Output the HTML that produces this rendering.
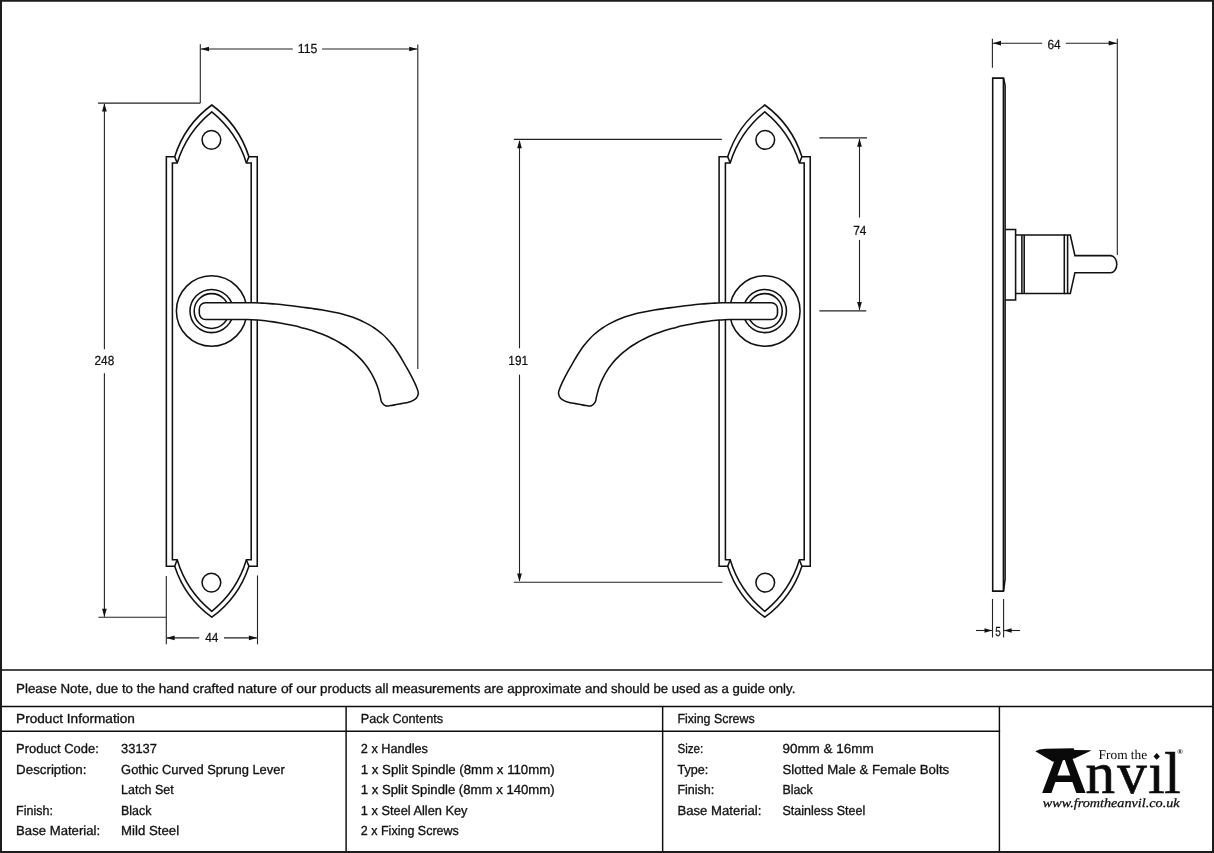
<!DOCTYPE html>
<html lang="en"><head><meta charset="utf-8"><title>Gothic Curved Sprung Lever Latch Set - 33137</title>
<style>
html,body{margin:0;padding:0;background:#fff;}
body{width:1214px;height:853px;overflow:hidden;position:relative;font-family:"Liberation Sans",sans-serif;}
svg{position:absolute;left:0;top:0;display:block}
text{text-rendering:geometricPrecision}
svg{filter:grayscale(1)}
.obj *{fill:none;stroke:#111;stroke-width:1.55;stroke-linejoin:miter;stroke-linecap:butt}
.obj .hf{fill:#fff;stroke-linejoin:round}
.dim line{stroke:#222;stroke-width:1.1}
.arr polygon{fill:#111;stroke:none}
.dimt text{font-family:"Liberation Sans",sans-serif;font-size:13.2px;fill:#111;stroke:#111;stroke-width:0.24}
.tbl line{stroke:#0c0c0c;stroke-width:1.45}
.tt text{font-family:"Liberation Sans",sans-serif;font-size:13.1px;fill:#111;stroke:#111;stroke-width:0.32}
.frame{fill:none;stroke:#1c1c1c;stroke-width:2}
</style></head><body>
<svg width="1214" height="853" viewBox="0 0 1214 853">
<rect x="0" y="0" width="1214" height="853" fill="#fff"/>

<g class="dim">
<line x1="200.30" y1="44.20" x2="200.30" y2="103.10"/>
<line x1="98.00" y1="103.10" x2="200.30" y2="103.10"/>
<line x1="417.80" y1="44.40" x2="417.80" y2="368.90"/>
<line x1="201.00" y1="49.00" x2="292.80" y2="49.00"/>
<line x1="322.10" y1="49.00" x2="417.30" y2="49.00"/>
<line x1="104.40" y1="104.00" x2="104.40" y2="349.20"/>
<line x1="104.40" y1="373.30" x2="104.40" y2="616.80"/>
<line x1="98.40" y1="617.30" x2="166.00" y2="617.30"/>
<line x1="166.30" y1="576.00" x2="166.30" y2="644.30"/>
<line x1="257.50" y1="575.40" x2="257.50" y2="644.30"/>
<line x1="167.00" y1="637.90" x2="199.20" y2="637.90"/>
<line x1="224.00" y1="637.90" x2="256.80" y2="637.90"/>
<line x1="513.80" y1="139.40" x2="721.80" y2="139.40"/>
<line x1="513.80" y1="582.30" x2="722.40" y2="582.30"/>
<line x1="519.50" y1="141.00" x2="519.50" y2="348.30"/>
<line x1="519.50" y1="374.60" x2="519.50" y2="581.00"/>
<line x1="819.40" y1="137.90" x2="867.00" y2="137.90"/>
<line x1="819.40" y1="310.90" x2="866.30" y2="310.90"/>
<line x1="859.50" y1="139.00" x2="859.50" y2="217.60"/>
<line x1="859.50" y1="239.90" x2="859.50" y2="310.00"/>
<line x1="992.40" y1="38.80" x2="992.40" y2="67.80"/>
<line x1="1117.30" y1="38.80" x2="1117.30" y2="254.90"/>
<line x1="993.00" y1="43.20" x2="1042.20" y2="43.20"/>
<line x1="1065.80" y1="43.20" x2="1117.00" y2="43.20"/>
<line x1="992.50" y1="599.00" x2="992.50" y2="637.50"/>
<line x1="1003.60" y1="599.00" x2="1003.60" y2="637.50"/>
<line x1="976.00" y1="630.50" x2="992.00" y2="630.50"/>
<line x1="1004.00" y1="630.50" x2="1020.10" y2="630.50"/>
</g>
<g class="arr">
<polygon points="200.80,49.00 209.00,46.65 209.00,51.35"/>
<polygon points="417.40,49.00 409.20,46.65 409.20,51.35"/>
<polygon points="104.40,103.20 102.05,111.40 106.75,111.40"/>
<polygon points="104.40,616.90 102.05,608.70 106.75,608.70"/>
<polygon points="166.40,637.90 174.60,635.55 174.60,640.25"/>
<polygon points="257.10,637.90 248.90,635.55 248.90,640.25"/>
<polygon points="519.50,140.00 517.15,148.20 521.85,148.20"/>
<polygon points="519.50,581.70 517.15,573.50 521.85,573.50"/>
<polygon points="859.50,138.50 857.15,146.70 861.85,146.70"/>
<polygon points="859.50,310.30 857.15,302.10 861.85,302.10"/>
<polygon points="992.80,43.20 1001.00,40.85 1001.00,45.55"/>
<polygon points="1116.90,43.20 1108.70,40.85 1108.70,45.55"/>
<polygon points="992.00,630.50 984.50,628.15 984.50,632.85"/>
<polygon points="1004.10,630.50 1011.60,628.15 1011.60,632.85"/>
</g>
<g class="obj">
<path d="M211.80,105.00 A102.0,102.0 0 0 0 174.70,156.80 H166.35 V566.20 H174.70 A102.0,102.0 0 0 0 211.80,617.20 A102.0,102.0 0 0 0 248.90,566.20 H257.25 V156.80 H248.90 A102.0,102.0 0 0 0 211.80,105.00 Z"/>
<path d="M211.80,111.80 A106.0,106.0 0 0 0 177.20,162.90 H172.40 V559.80 H177.20 A104.0,104.0 0 0 0 211.80,611.30 A104.0,104.0 0 0 0 246.40,559.80 H251.20 V162.90 H246.40 A106.0,106.0 0 0 0 211.80,111.80 Z"/>
<path d="M174.70,156.80 L177.20,162.90"/>
<path d="M174.70,566.20 L177.20,559.80"/>
<path d="M248.90,156.80 L246.40,162.90"/>
<path d="M248.90,566.20 L246.40,559.80"/>
<circle cx="211.40" cy="139.85" r="9.35"/>
<circle cx="211.40" cy="582.6" r="9.35"/>
<circle cx="211.60" cy="311.00" r="35.2"/>
<circle cx="211.60" cy="311.00" r="21.6"/>
<circle cx="211.60" cy="311.00" r="17.4"/>
<path class="hf" d="M205.50,302.75 H222.00 C222.89,302.75 225.58,302.78 227.36,302.78 C229.15,302.79 230.94,302.78 232.73,302.78 C234.52,302.77 236.31,302.76 238.11,302.76 C239.90,302.75 241.69,302.74 243.48,302.74 C245.27,302.74 247.06,302.74 248.85,302.76 C250.64,302.77 252.43,302.80 254.21,302.84 C256.00,302.88 257.79,302.93 259.57,303.00 C261.36,303.08 263.14,303.17 264.93,303.27 C266.71,303.38 268.49,303.50 270.27,303.63 C272.06,303.76 273.84,303.91 275.62,304.07 C277.40,304.23 279.18,304.40 280.96,304.58 C282.73,304.76 284.51,304.95 286.29,305.15 C288.07,305.35 289.85,305.56 291.63,305.78 C293.40,305.99 295.18,306.22 296.96,306.45 C298.74,306.67 300.51,306.91 302.29,307.15 C304.07,307.39 305.85,307.63 307.63,307.88 C309.41,308.12 311.19,308.37 312.97,308.62 C314.74,308.87 316.52,309.13 318.30,309.39 C320.08,309.66 321.85,309.94 323.62,310.23 C325.39,310.52 327.16,310.82 328.92,311.15 C330.68,311.47 332.44,311.81 334.19,312.18 C335.94,312.55 337.68,312.94 339.41,313.36 C341.15,313.78 342.87,314.22 344.59,314.71 C346.30,315.19 348.01,315.70 349.71,316.25 C351.40,316.80 353.08,317.39 354.75,318.02 C356.42,318.65 358.08,319.33 359.72,320.05 C361.36,320.77 362.99,321.53 364.59,322.34 C366.19,323.15 367.78,324.01 369.33,324.91 C370.89,325.81 372.42,326.76 373.92,327.75 C375.41,328.75 376.88,329.78 378.30,330.87 C379.73,331.95 381.12,333.08 382.46,334.26 C383.80,335.44 385.11,336.66 386.36,337.93 C387.61,339.20 388.81,340.52 389.97,341.88 C391.12,343.23 392.22,344.64 393.30,346.07 C394.37,347.50 395.39,348.97 396.40,350.46 C397.40,351.94 398.36,353.46 399.31,354.99 C400.26,356.52 401.18,358.07 402.09,359.62 C403.00,361.17 403.89,362.74 404.77,364.30 C405.66,365.86 406.54,367.42 407.41,368.97 C408.29,370.53 409.16,372.08 410.01,373.64 C410.86,375.20 411.70,376.76 412.51,378.35 C413.31,379.94 414.10,381.53 414.84,383.16 C415.59,384.80 416.38,386.45 416.96,388.14 C417.53,389.84 418.41,391.67 418.29,393.35 C418.17,395.02 417.32,396.91 416.24,398.21 C415.16,399.51 413.41,400.42 411.80,401.16 C410.20,401.90 408.34,402.23 406.59,402.64 C404.85,403.05 403.09,403.30 401.33,403.62 C399.58,403.94 397.84,404.25 396.08,404.56 C394.32,404.88 392.54,405.31 390.77,405.50 C389.00,405.69 386.96,406.25 385.44,405.70 C383.92,405.15 382.50,403.68 381.65,402.22 C380.80,400.75 380.79,398.67 380.35,396.92 C379.92,395.16 379.52,393.40 379.04,391.68 C378.55,389.96 378.03,388.28 377.44,386.61 C376.85,384.94 376.21,383.30 375.51,381.67 C374.81,380.04 374.05,378.42 373.23,376.83 C372.41,375.24 371.52,373.65 370.59,372.11 C369.65,370.56 368.66,369.03 367.62,367.55 C366.58,366.07 365.49,364.62 364.35,363.21 C363.22,361.81 362.03,360.45 360.81,359.13 C359.58,357.82 358.31,356.56 357.01,355.34 C355.70,354.12 354.36,352.95 352.98,351.81 C351.61,350.68 350.19,349.59 348.75,348.54 C347.32,347.50 345.84,346.49 344.35,345.52 C342.86,344.55 341.34,343.62 339.80,342.72 C338.26,341.82 336.70,340.96 335.12,340.14 C333.54,339.31 331.94,338.52 330.33,337.76 C328.72,337.00 327.09,336.27 325.44,335.57 C323.80,334.87 322.14,334.21 320.47,333.57 C318.80,332.93 317.11,332.32 315.42,331.73 C313.72,331.15 312.02,330.59 310.30,330.05 C308.59,329.52 306.86,329.01 305.13,328.52 C303.40,328.04 301.66,327.57 299.92,327.13 C298.17,326.69 296.42,326.26 294.67,325.86 C292.92,325.46 291.16,325.07 289.40,324.70 C287.65,324.34 285.89,323.98 284.12,323.65 C282.36,323.32 280.60,323.00 278.83,322.71 C277.07,322.41 275.30,322.13 273.53,321.87 C271.76,321.62 269.99,321.38 268.22,321.16 C266.45,320.94 264.67,320.74 262.90,320.57 C261.12,320.39 259.34,320.24 257.56,320.10 C255.78,319.97 254.00,319.86 252.21,319.77 C250.43,319.68 248.64,319.62 246.85,319.58 C245.06,319.53 243.27,319.51 241.48,319.50 C239.69,319.48 237.90,319.49 236.11,319.49 C234.31,319.49 232.52,319.51 230.73,319.52 C228.94,319.52 227.15,319.53 225.36,319.53 C223.57,319.53 220.89,319.50 220.00,319.50 H205.50 A6.2,6.2 0 0 1 199.30,313.30 V308.95 A6.2,6.2 0 0 1 205.50,302.75 Z"/>
<path d="M764.80,105.00 A102.0,102.0 0 0 0 727.70,156.80 H719.10 V566.20 H727.70 A102.0,102.0 0 0 0 764.80,617.20 A102.0,102.0 0 0 0 801.90,566.20 H810.25 V156.80 H801.90 A102.0,102.0 0 0 0 764.80,105.00 Z"/>
<path d="M764.80,111.80 A106.0,106.0 0 0 0 730.20,162.90 H725.40 V559.80 H730.20 A104.0,104.0 0 0 0 764.80,611.30 A104.0,104.0 0 0 0 799.40,559.80 H804.20 V162.90 H799.40 A106.0,106.0 0 0 0 764.80,111.80 Z"/>
<path d="M727.70,156.80 L730.20,162.90"/>
<path d="M727.70,566.20 L730.20,559.80"/>
<path d="M801.90,156.80 L799.40,162.90"/>
<path d="M801.90,566.20 L799.40,559.80"/>
<circle cx="765.25" cy="139.85" r="9.35"/>
<circle cx="765.25" cy="582.6" r="9.35"/>
<circle cx="764.85" cy="311.00" r="35.2"/>
<circle cx="764.85" cy="311.00" r="21.6"/>
<circle cx="764.85" cy="311.00" r="17.4"/>
<path class="hf" d="M771.30,302.75 H754.80 C753.91,302.75 751.22,302.78 749.44,302.78 C747.65,302.79 745.86,302.78 744.07,302.78 C742.28,302.77 740.49,302.76 738.69,302.76 C736.90,302.75 735.11,302.74 733.32,302.74 C731.53,302.74 729.74,302.74 727.95,302.76 C726.16,302.77 724.37,302.80 722.59,302.84 C720.80,302.88 719.01,302.93 717.23,303.00 C715.44,303.08 713.66,303.17 711.87,303.27 C710.09,303.38 708.31,303.50 706.53,303.63 C704.74,303.76 702.96,303.91 701.18,304.07 C699.40,304.23 697.62,304.40 695.84,304.58 C694.07,304.76 692.29,304.95 690.51,305.15 C688.73,305.35 686.95,305.56 685.17,305.78 C683.40,305.99 681.62,306.22 679.84,306.45 C678.06,306.67 676.29,306.91 674.51,307.15 C672.73,307.39 670.95,307.63 669.17,307.88 C667.39,308.12 665.61,308.37 663.83,308.62 C662.06,308.87 660.28,309.13 658.50,309.39 C656.72,309.66 654.95,309.94 653.18,310.23 C651.41,310.52 649.64,310.82 647.88,311.15 C646.12,311.47 644.36,311.81 642.61,312.18 C640.86,312.55 639.12,312.94 637.39,313.36 C635.65,313.78 633.93,314.22 632.21,314.71 C630.50,315.19 628.79,315.70 627.09,316.25 C625.40,316.80 623.72,317.39 622.05,318.02 C620.38,318.65 618.72,319.33 617.08,320.05 C615.44,320.77 613.81,321.53 612.21,322.34 C610.61,323.15 609.02,324.01 607.47,324.91 C605.91,325.81 604.38,326.76 602.88,327.75 C601.39,328.75 599.92,329.78 598.50,330.87 C597.07,331.95 595.68,333.08 594.34,334.26 C593.00,335.44 591.69,336.66 590.44,337.93 C589.19,339.20 587.99,340.52 586.83,341.88 C585.68,343.23 584.58,344.64 583.50,346.07 C582.43,347.50 581.41,348.97 580.40,350.46 C579.40,351.94 578.44,353.46 577.49,354.99 C576.54,356.52 575.62,358.07 574.71,359.62 C573.80,361.17 572.91,362.74 572.03,364.30 C571.14,365.86 570.26,367.42 569.39,368.97 C568.51,370.53 567.64,372.08 566.79,373.64 C565.94,375.20 565.10,376.76 564.29,378.35 C563.49,379.94 562.70,381.53 561.96,383.16 C561.21,384.80 560.42,386.45 559.84,388.14 C559.27,389.84 558.39,391.67 558.51,393.35 C558.63,395.02 559.48,396.91 560.56,398.21 C561.64,399.51 563.39,400.42 565.00,401.16 C566.60,401.90 568.46,402.23 570.21,402.64 C571.95,403.05 573.71,403.30 575.47,403.62 C577.22,403.94 578.96,404.25 580.72,404.56 C582.48,404.88 584.26,405.31 586.03,405.50 C587.80,405.69 589.84,406.25 591.36,405.70 C592.88,405.15 594.30,403.68 595.15,402.22 C596.00,400.75 596.01,398.67 596.45,396.92 C596.88,395.16 597.28,393.40 597.76,391.68 C598.25,389.96 598.77,388.28 599.36,386.61 C599.95,384.94 600.59,383.30 601.29,381.67 C601.99,380.04 602.75,378.42 603.57,376.83 C604.39,375.24 605.28,373.65 606.21,372.11 C607.15,370.56 608.14,369.03 609.18,367.55 C610.22,366.07 611.31,364.62 612.45,363.21 C613.58,361.81 614.77,360.45 615.99,359.13 C617.22,357.82 618.49,356.56 619.79,355.34 C621.10,354.12 622.44,352.95 623.82,351.81 C625.19,350.68 626.61,349.59 628.05,348.54 C629.48,347.50 630.96,346.49 632.45,345.52 C633.94,344.55 635.46,343.62 637.00,342.72 C638.54,341.82 640.10,340.96 641.68,340.14 C643.26,339.31 644.86,338.52 646.47,337.76 C648.08,337.00 649.71,336.27 651.36,335.57 C653.00,334.87 654.66,334.21 656.33,333.57 C658.00,332.93 659.69,332.32 661.38,331.73 C663.08,331.15 664.78,330.59 666.50,330.05 C668.21,329.52 669.94,329.01 671.67,328.52 C673.40,328.04 675.14,327.57 676.88,327.13 C678.63,326.69 680.38,326.26 682.13,325.86 C683.88,325.46 685.64,325.07 687.40,324.70 C689.15,324.34 690.91,323.98 692.68,323.65 C694.44,323.32 696.20,323.00 697.97,322.71 C699.73,322.41 701.50,322.13 703.27,321.87 C705.04,321.62 706.81,321.38 708.58,321.16 C710.35,320.94 712.13,320.74 713.90,320.57 C715.68,320.39 717.46,320.24 719.24,320.10 C721.02,319.97 722.80,319.86 724.59,319.77 C726.37,319.68 728.16,319.62 729.95,319.58 C731.74,319.53 733.53,319.51 735.32,319.50 C737.11,319.48 738.90,319.49 740.69,319.49 C742.49,319.49 744.28,319.51 746.07,319.52 C747.86,319.52 749.65,319.53 751.44,319.53 C753.23,319.53 755.91,319.50 756.80,319.50 H771.30 A6.2,6.2 0 0 0 777.50,313.30 V308.95 A6.2,6.2 0 0 0 771.30,302.75 Z"/>
<path d="M1003.4,78.1 H992.7 V591.1 H1003.4 Z"/>
<path d="M1003.6,78.1 L1005.1,85.6 V579 L1003.6,591.1" stroke-width="1.5"/>
<path d="M1005.2,229.4 H1015.6 V300.0 H1005.2" />
<path d="M1015.6,235.0 H1064.3 V293.4 H1015.6"/>
<line x1="1021.90" y1="235.00" x2="1021.90" y2="293.40"/>
<line x1="1024.20" y1="235.00" x2="1024.20" y2="293.40"/>
<path d="M1064.3,235.0 H1070.3 L1074.9,255.6 H1110.5 A6.3,8.55 0 0 1 1110.5,272.7 H1074.9 L1070.3,293.4 H1064.3"/>
<line x1="1067.60" y1="235.00" x2="1067.60" y2="293.40"/>
</g>
<g class="dimt">
<text x="307.60" y="53.40" text-anchor="middle" textLength="19.7" lengthAdjust="spacingAndGlyphs">115</text>
<text x="104.40" y="365.10" text-anchor="middle" textLength="19.7" lengthAdjust="spacingAndGlyphs">248</text>
<text x="211.80" y="642.40" text-anchor="middle" textLength="13.2" lengthAdjust="spacingAndGlyphs">44</text>
<text x="518.20" y="364.50" text-anchor="middle" textLength="19.7" lengthAdjust="spacingAndGlyphs">191</text>
<text x="859.80" y="234.70" text-anchor="middle" textLength="13.2" lengthAdjust="spacingAndGlyphs">74</text>
<text x="1054.10" y="48.60" text-anchor="middle" textLength="13.2" lengthAdjust="spacingAndGlyphs">64</text>
<text x="998.00" y="635.90" text-anchor="middle" textLength="5.6" lengthAdjust="spacingAndGlyphs">5</text>
</g>
<g class="tbl">
<line x1="0" y1="669.95" x2="1214" y2="669.95"/>
<line x1="0" y1="706.55" x2="1214" y2="706.55"/>
<line x1="0" y1="731.3" x2="1000.1" y2="731.3"/>
<line x1="346.10" y1="706.55" x2="346.10" y2="853"/>
<line x1="662.65" y1="706.55" x2="662.65" y2="853"/>
<line x1="999.40" y1="706.55" x2="999.40" y2="853"/>
</g>
<g class="tt">
<text y="693.2"><tspan x="16.1" textLength="139.1" lengthAdjust="spacingAndGlyphs">Please Note, due to the</tspan> <tspan x="158.8" textLength="75.3" lengthAdjust="spacingAndGlyphs">hand crafted</tspan> <tspan x="237.7" textLength="78.7" lengthAdjust="spacingAndGlyphs">nature of our</tspan> <tspan x="320.0" textLength="68.4" lengthAdjust="spacingAndGlyphs">products all</tspan> <tspan x="392.0" textLength="88.4" lengthAdjust="spacingAndGlyphs">measurements</tspan> <tspan x="484.0" textLength="123.4" lengthAdjust="spacingAndGlyphs">are approximate and</tspan> <tspan x="611.0" textLength="184.3" lengthAdjust="spacingAndGlyphs">should be used as a guide only.</tspan> </text>
<text x="16.10" y="722.60" textLength="118.8" lengthAdjust="spacingAndGlyphs">Product Information</text>
<text x="360.80" y="722.60" textLength="82.2" lengthAdjust="spacingAndGlyphs">Pack Contents</text>
<text x="677.40" y="722.60" textLength="77.3" lengthAdjust="spacingAndGlyphs">Fixing Screws</text>
<text x="16.10" y="753.30" textLength="82.7" lengthAdjust="spacingAndGlyphs">Product Code:</text>
<text x="121.10" y="753.30" textLength="35.8" lengthAdjust="spacingAndGlyphs">33137</text>
<text x="16.10" y="773.90" textLength="70.4" lengthAdjust="spacingAndGlyphs">Description:</text>
<text x="121.10" y="773.90" textLength="163.6" lengthAdjust="spacingAndGlyphs">Gothic Curved Sprung Lever</text>
<text x="121.10" y="794.40" textLength="52.6" lengthAdjust="spacingAndGlyphs">Latch Set</text>
<text x="16.10" y="814.80" textLength="36.8" lengthAdjust="spacingAndGlyphs">Finish:</text>
<text x="121.10" y="814.80" textLength="30.3" lengthAdjust="spacingAndGlyphs">Black</text>
<text x="16.10" y="835.40" textLength="84.0" lengthAdjust="spacingAndGlyphs">Base Material:</text>
<text x="121.10" y="835.40" textLength="58.0" lengthAdjust="spacingAndGlyphs">Mild Steel</text>
<text x="360.80" y="753.30" textLength="67.2" lengthAdjust="spacingAndGlyphs">2 x Handles</text>
<text x="360.80" y="773.90" textLength="193.9" lengthAdjust="spacingAndGlyphs">1 x Split Spindle (8mm x 110mm)</text>
<text x="360.80" y="794.40" textLength="193.9" lengthAdjust="spacingAndGlyphs">1 x Split Spindle (8mm x 140mm)</text>
<text x="360.80" y="814.80" textLength="106.7" lengthAdjust="spacingAndGlyphs">1 x Steel Allen Key</text>
<text x="360.80" y="835.40" textLength="98.1" lengthAdjust="spacingAndGlyphs">2 x Fixing Screws</text>
<text x="677.40" y="753.30" textLength="25.9" lengthAdjust="spacingAndGlyphs">Size:</text>
<text x="782.40" y="753.30" textLength="91.4" lengthAdjust="spacingAndGlyphs">90mm &amp; 16mm</text>
<text x="677.40" y="773.90" textLength="30.9" lengthAdjust="spacingAndGlyphs">Type:</text>
<text x="782.40" y="773.90" textLength="166.8" lengthAdjust="spacingAndGlyphs">Slotted Male &amp; Female Bolts</text>
<text x="677.40" y="794.40" textLength="36.8" lengthAdjust="spacingAndGlyphs">Finish:</text>
<text x="782.40" y="794.40" textLength="30.3" lengthAdjust="spacingAndGlyphs">Black</text>
<text x="677.40" y="814.80" textLength="84.0" lengthAdjust="spacingAndGlyphs">Base Material:</text>
<text x="782.40" y="814.80" textLength="82.8" lengthAdjust="spacingAndGlyphs">Stainless Steel</text>
</g>
<g class="logo" fill="#0a0a0a">
<polygon points="1035.3,751.2 1039.5,749.6 1045.6,748.7 1073.6,748.2 1074.4,749.9 1090.9,750.3 1090.9,750.7 1074.4,758.6 1053,761.8"/>
<text transform="translate(1040.6,793.1) scale(1.045,1)" x="0" y="0" style="font-family:'Liberation Sans',sans-serif;font-weight:bold;font-size:62px">A</text>
<text x="1085.6 1117.2 1148.3 1164.3" y="793.1" style="font-family:'Liberation Serif',serif;font-size:59px" stroke="#0a0a0a" stroke-width="0.7">nvil</text>
<text x="1098.6" y="759.3" style="font-family:'Liberation Serif',serif;font-size:13.2px" textLength="48.6" lengthAdjust="spacingAndGlyphs">From the</text>
<circle cx="1156.4" cy="756.5" r="5.3" fill="#fff"/>
<polygon points="1156.7,753.1 1159.9,756.4 1156.7,759.8 1153.5,756.4"/>
<text x="1177.6" y="754.2" style="font-family:'Liberation Sans',sans-serif;font-size:7px;font-weight:bold">®</text>
<text x="1042.8" y="807.1" style="font-family:'Liberation Serif',serif;font-style:italic;font-size:12.5px" stroke="#0a0a0a" stroke-width="0.25" textLength="136.8" lengthAdjust="spacingAndGlyphs">www.fromtheanvil.co.uk</text>
</g>
<rect class="frame" x="1" y="0.75" width="1212" height="851.25"/>
</svg>
</body></html>
